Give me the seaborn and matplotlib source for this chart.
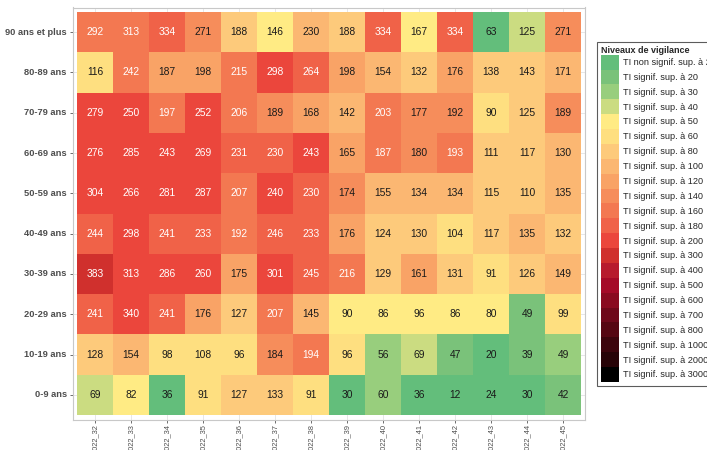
import numpy as np
import matplotlib
matplotlib.use("Agg")
import matplotlib.pyplot as plt
from matplotlib.colors import ListedColormap
from matplotlib.patches import Patch
import seaborn as sns

# Données : taux d'incidence par classe d'âge et semaine
semaines = ["2022_32", "2022_33", "2022_34", "2022_35", "2022_36", "2022_37", "2022_38",
            "2022_39", "2022_40", "2022_41", "2022_42", "2022_43", "2022_44", "2022_45"]
ages = ["90 ans et plus", "80-89 ans", "70-79 ans", "60-69 ans", "50-59 ans",
        "40-49 ans", "30-39 ans", "20-29 ans", "10-19 ans", "0-9 ans"]

taux = [
    [292, 313, 334, 271, 188, 146, 230, 188, 334, 167, 334, 63, 125, 271],
    [116, 242, 187, 198, 215, 298, 264, 198, 154, 132, 176, 138, 143, 171],
    [279, 250, 197, 252, 206, 189, 168, 142, 203, 177, 192, 90, 125, 189],
    [276, 285, 243, 269, 231, 230, 243, 165, 187, 180, 193, 111, 117, 130],
    [304, 266, 281, 287, 207, 240, 230, 174, 155, 134, 134, 115, 110, 135],
    [244, 298, 241, 233, 192, 246, 233, 176, 124, 130, 104, 117, 135, 132],
    [383, 313, 286, 260, 175, 301, 245, 216, 129, 161, 131, 91, 126, 149],
    [241, 340, 241, 176, 127, 207, 145, 90, 86, 96, 86, 80, 49, 99],
    [128, 154, 98, 108, 96, 184, 194, 96, 56, 69, 47, 20, 39, 49],
    [69, 82, 36, 91, 127, 133, 91, 30, 60, 36, 12, 24, 30, 42],
]

# niveau de vigilance (indice dans la légende)
niveaux = [
    [10, 10, 11, 9, 6, 4, 7, 6, 11, 4, 11, 0, 3, 9],
    [5, 10, 8, 8, 10, 12, 11, 8, 7, 6, 8, 6, 6, 7],
    [12, 12, 10, 12, 10, 9, 8, 7, 10, 9, 9, 5, 6, 9],
    [12, 12, 12, 12, 11, 11, 12, 8, 10, 9, 10, 6, 6, 7],
    [12, 12, 12, 12, 10, 12, 11, 9, 7, 7, 7, 6, 6, 7],
    [11, 12, 11, 11, 10, 11, 11, 8, 6, 6, 5, 6, 7, 6],
    [13, 12, 12, 12, 8, 12, 11, 10, 6, 8, 6, 5, 6, 7],
    [11, 12, 11, 8, 6, 10, 7, 4, 4, 4, 4, 4, 1, 5],
    [6, 7, 5, 5, 5, 9, 10, 5, 2, 3, 1, 0, 1, 2],
    [3, 4, 0, 5, 6, 6, 5, 0, 2, 0, 0, 0, 0, 1],
]

seuils = [20, 30, 40, 50, 60, 80, 100, 120, 140, 160, 180, 200,
          300, 400, 500, 600, 700, 800, 1000, 2000, 3000]
couleurs = ["#63be7b", "#7ac27a", "#98ce7d", "#cbdc81", "#ffeb84", "#fedf80",
            "#fdca7b", "#fbb772", "#f9a366", "#f68d5b", "#f37851", "#f06248",
            "#eb463c", "#d0302d", "#b71b2e", "#a50a28", "#8a0a20", "#6e081a",
            "#560612", "#3c040c", "#270307", "#000000"]
legendes = ["TI non signif. sup. à 20"] + [f"TI signif. sup. à {s}" for s in seuils]

sns.set_style("white")
plt.rcParams["font.family"] = ["Liberation Sans", "DejaVu Sans"]

fig = plt.figure(figsize=(7.07, 4.5), dpi=100)
ax = fig.add_axes([73 / 707, 1 - 419.5 / 450, 512 / 707, 412 / 450])

cmap = ListedColormap(couleurs)
sns.heatmap(np.array(niveaux), ax=ax, cmap=cmap, vmin=-0.5, vmax=len(couleurs) - 0.5,
            cbar=False, annot=np.array(taux), fmt="d", linewidths=0,
            annot_kws={"fontsize": 7.4}, xticklabels=semaines, yticklabels=ages)

# couleur du texte : blanc pour les niveaux élevés
niv_plat = np.array(niveaux).ravel()
for txt, n in zip(ax.texts, niv_plat):
    txt.set_color("white" if n >= 10 else "#1a1a1a")

ax.set_xlim(-0.11, len(semaines) + 0.11)
ax.set_ylim(len(ages) + 0.11, -0.11)
ax.set_axisbelow(True)
ax.grid(True, color="#e3e3e3", lw=0.6)
for sp in ax.spines.values():
    sp.set_visible(True)
    sp.set_color("#c8c8c8")
    sp.set_linewidth(0.8)

ax.tick_params(axis="y", length=2.5, width=0.6, color="#555555", pad=2, left=True)
ax.tick_params(axis="x", length=2.5, width=0.6, color="#555555", pad=1, bottom=True)
ax.set_xticklabels(semaines, rotation=90, fontsize=5.4, color="#4d4d4d", va="top")
ax.set_yticklabels(ages, rotation=0, fontsize=6.7, color="#4d4d4d", fontweight="bold")
ax.set_xlabel("")
ax.set_ylabel("")

poignees = [Patch(facecolor=c, edgecolor="none") for c in couleurs]
leg = fig.legend(poignees, legendes, loc="upper left",
                 bbox_to_anchor=(597 / 707, 1 - 42 / 450), borderaxespad=0,
                 title="Niveaux de vigilance", fontsize=6.6, title_fontsize=6.5,
                 frameon=True, fancybox=False, edgecolor="#333333",
                 labelspacing=0, handlelength=1.95, handleheight=2.12,
                 handletextpad=0.5, borderpad=0.4, alignment="left")
leg.get_title().set_fontweight("bold")
leg.get_frame().set_linewidth(0.8)

fig.savefig("out.png", dpi=100)
